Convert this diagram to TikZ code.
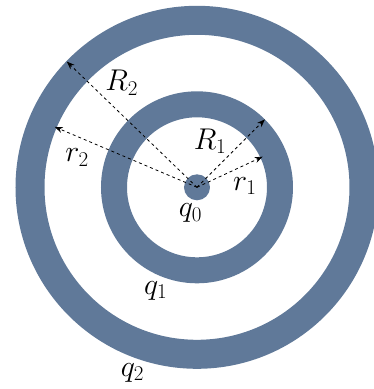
\RequirePackage{fix-cm}
\documentclass[tikz,border=0pt]{standalone}
\usetikzlibrary{arrows.meta}
\definecolor{shellblue}{RGB}{96,121,153}
\begin{document}
\begin{tikzpicture}[x=1pt,y=1pt,every node/.style={font=\fontsize{30}{36}\selectfont},
  shell/.style={fill=shellblue,even odd rule},
  rline/.style={dashed,line width=0.8pt,-{Stealth[length=8pt,width=6pt]}}]
  \useasboundingbox (-197,-201.7) rectangle (177,187.3);
  \fill[shell] (0,0) circle (181.5) circle (152.5);
  \fill[shell] (0,0) circle (96) circle (70);
  \node[circle,fill=shellblue,minimum size=26pt,inner sep=0pt] (core) at (0,0) {};
  \coordinate (o) at (0,0);
  \coordinate (tipR2) at (136:181);
  \coordinate (tipr2) at (157:154.5);
  \coordinate (tipR1) at (45:96);
  \coordinate (tipr1) at (25:72.5);
  \draw[rline] (o) -- (tipR2);
  \draw[rline] (o) -- (tipr2);
  \draw[rline] (o) -- (tipR1);
  \draw[rline] (o) -- (tipr1);
  \node (labR2) at (-75.3,104.8) {$R_2$};
  \node (labr2) at (-120,29.8) {$r_2$};
  \node (labR1) at (13,46.3) {$R_1$};
  \node (labr1) at (47.7,1.5) {$r_1$};
  \node (labq0) at (-6.5,-25.7) {$q_0$};
  \node (labq1) at (-41.2,-103.5) {$q_1$};
  \node (labq2) at (-64.5,-185.2) {$q_2$};
\end{tikzpicture}
\end{document}
